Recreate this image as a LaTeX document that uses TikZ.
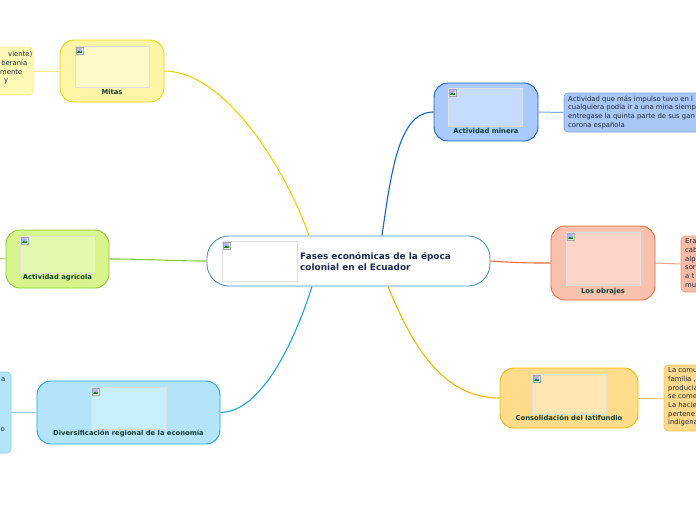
\documentclass[tikz,border=0pt]{standalone}
\usepackage{fontspec}
\setmainfont{DejaVu Sans}
\definecolor{lbl}{HTML}{12402F}
\definecolor{ttl}{HTML}{1B2A4E}
\definecolor{cenB}{HTML}{4A93D3}
\definecolor{mitF}{HTML}{FFF5A6}\definecolor{mitB}{HTML}{F0D400}\definecolor{mitI}{HTML}{FFF8C8}
\definecolor{minF}{HTML}{A9C9FF}\definecolor{minB}{HTML}{1462CC}\definecolor{minI}{HTML}{C5DBFF}
\definecolor{obrF}{HTML}{F8C1AE}\definecolor{obrB}{HTML}{F06A3A}\definecolor{obrI}{HTML}{FCD4C8}
\definecolor{latF}{HTML}{FFDB8C}\definecolor{latB}{HTML}{F8B800}\definecolor{latI}{HTML}{FFE6B2}
\definecolor{divF}{HTML}{B4E4FA}\definecolor{divB}{HTML}{1CA4E4}\definecolor{divI}{HTML}{C9EEFC}
\definecolor{agrF}{HTML}{D7F58C}\definecolor{agrB}{HTML}{8CC83C}\definecolor{agrI}{HTML}{E3F9AF}
\definecolor{nMitF}{HTML}{FFF9B8}\definecolor{nMitB}{HTML}{F8E680}
\definecolor{nMinF}{HTML}{A8C7F5}\definecolor{nMinB}{HTML}{7FA8E8}
\definecolor{nObrF}{HTML}{F7BAA5}\definecolor{nObrB}{HTML}{F0A080}
\definecolor{nLatF}{HTML}{FFD98C}\definecolor{nLatB}{HTML}{F8C860}
\definecolor{nDivF}{HTML}{B4E4FA}\definecolor{nDivB}{HTML}{88D0F0}
\definecolor{ntxt}{HTML}{1A2A3A}
\begin{document}
\begin{tikzpicture}[x=1pt,y=-1pt,
  topic/.style={draw, line width=0.9pt, rounded corners=14pt, inner sep=0pt},
  imgbox/.style={draw=black!12, line width=1pt, inner sep=0pt},
  tlabel/.style={font=\fontsize{6.8}{8}\selectfont\bfseries, text=lbl, inner sep=0pt},
  note/.style={draw, line width=0.6pt, rounded corners=4pt, inner sep=0pt},
  ntext/.style={font=\fontsize{6.85}{8.7}\selectfont, text=ntxt, inner sep=0pt, align=left},
  conn/.style={line width=1.1pt},
  subconn/.style={line width=1pt},
  brk/.pic={
    \fill[white] (0,0) rectangle (7,7);
    \draw[black!35, line width=0.4pt] (0,0) rectangle (7,7);
    \fill[blue!30] (0.8,0.8) rectangle (6.2,6.2);
    \fill[green!55!black] (0.8,6.2) -- (3,3.6) -- (4.6,5) -- (6.2,3.8) -- (6.2,6.2) -- cycle;
  }]
\useasboundingbox (0,0) rectangle (696,520);
\fill[white] (0,0) rectangle (696,520);

% ---------- note boxes ----------
\node[note, draw=nMitB, fill=nMitF, minimum width=53pt, minimum height=48pt] (nmit) at (6.5,71) {};
\node[note, draw=nMinB, fill=nMinF, minimum width=196pt, minimum height=39pt] (nmin) at (662,112.5) {};
\node[note, draw=nObrB, fill=nObrF, minimum width=79pt, minimum height=56pt] (nobr) at (720.5,264) {};
\node[note, draw=nLatB, fill=nLatF, minimum width=96pt, minimum height=66pt] (nlat) at (712,398) {};
\node[note, draw=nDivB, fill=nDivF, minimum width=41pt, minimum height=81pt] (ndiv) at (-9.5,412.5) {};
\coordinate (nagr) at (-6,258);

% note texts
\node[ntext, anchor=base east] (tm1) at (32.5,56) {viente)};
\node[ntext, anchor=base east] (tm2) at (27.5,65) {beranía};
\node[ntext, anchor=base east] (tm3) at (22.5,74) {mente};
\node[ntext, anchor=base east] (tm4) at (8.5,82.5) {y};
\node[ntext, anchor=north west] (tmin) at (568,95.5) {Actividad que más impulso tuvo en l\\cualquiera podía ir a una mina siemp\\entregase la quinta parte de sus gan\\corona española};
\node[ntext, anchor=north west] (tobr) at (685,238.5) {Era\\cab\\alp\\sor\\a t\\mu};
\node[ntext, anchor=north west] (tlat) at (668,367.5) {La comu\\familia ,\\producia\\se come\\La hacie\\pertene\\indigena};
\node[ntext, anchor=base east] (td1) at (5.5,381.5) {a};
\node[ntext, anchor=base east] (td2) at (5,431.5) {o};

% ---------- central ----------
\node[topic, draw=cenB, fill=white, rounded corners=22pt, minimum width=283pt, minimum height=50pt] (central) at (348.5,261) {};
\node[imgbox, fill=white, minimum width=75pt, minimum height=40pt] (centimg) at (259.5,261) {};
\pic at ([shift={(1.5pt,-1.5pt)}]centimg.north west) {brk};
\node[anchor=west, align=left, inner sep=0pt, text=ttl, font=\fontsize{8.9}{11.2}\selectfont\bfseries] (title) at (300,261.5) {Fases económicas de la época\\colonial en el Ecuador};

% ---------- topics ----------
\node[topic, draw=mitB, fill=mitF, minimum width=104pt, minimum height=62pt] (mitas) at (112,71) {};
\node[imgbox, fill=mitI, minimum width=74pt, minimum height=41pt] (mitasimg) at (112,66.5) {};
\pic at ([shift={(1.5pt,-1.5pt)}]mitasimg.north west) {brk};
\node[tlabel] (mitaslbl) at (112,92) {Mitas};

\node[topic, draw=minB, fill=minF, minimum width=104pt, minimum height=58pt] (minera) at (486,112) {};
\node[imgbox, fill=minI, minimum width=74pt, minimum height=38pt] (mineraimg) at (485,107) {};
\pic at ([shift={(1.5pt,-1.5pt)}]mineraimg.north west) {brk};
\node[tlabel] (mineralbl) at (486,131) {Actividad minera};

\node[topic, draw=obrB, fill=obrF, minimum width=104pt, minimum height=74pt] (obrajes) at (603,263) {};
\node[imgbox, fill=obrI, minimum width=74pt, minimum height=53pt] (obrajesimg) at (603,258.5) {};
\pic at ([shift={(1.5pt,-1.5pt)}]obrajesimg.north west) {brk};
\node[tlabel] (obrajeslbl) at (603,292) {Los obrajes};

\node[topic, draw=latB, fill=latF, minimum width=138pt, minimum height=60pt] (latif) at (569,398) {};
\node[imgbox, fill=latI, minimum width=74pt, minimum height=40pt] (latifimg) at (569,394) {};
\pic at ([shift={(1.5pt,-1.5pt)}]latifimg.north west) {brk};
\node[tlabel] (latiflbl) at (569,418) {Consolidación del latifundio};

\node[topic, draw=divB, fill=divF, minimum width=183pt, minimum height=63pt] (divers) at (128.5,412.5) {};
\node[imgbox, fill=divI, minimum width=75pt, minimum height=42pt] (diversimg) at (128.5,408) {};
\pic at ([shift={(1.5pt,-1.5pt)}]diversimg.north west) {brk};
\node[tlabel] (diverslbl) at (128.5,434) {Diversificación regional de la economía};

\node[topic, draw=agrB, fill=agrF, minimum width=103pt, minimum height=58pt] (agric) at (57.5,259) {};
\node[imgbox, fill=agrI, minimum width=75pt, minimum height=37pt] (agricimg) at (57.5,254.5) {};
\pic at ([shift={(1.5pt,-1.5pt)}]agricimg.north west) {brk};
\node[tlabel] (agriclbl) at (57.5,278) {Actividad agrícola};

% ---------- main connectors ----------
\draw[conn, draw=mitB] ([xshift=-39.5pt]central.north) .. controls (290,180) and (230,72) .. (mitas.east);
\draw[conn, draw=minB] ([xshift=33.5pt]central.north) .. controls (392,165) and (400,112) .. (minera.west);
\draw[conn, draw=obrB] (central.east) .. controls (520,263) and (530,263) .. (obrajes.west);
\draw[conn, draw=latB] ([xshift=39.5pt]central.south) .. controls (410,340) and (440,398) .. (latif.west);
\draw[conn, draw=divB] ([xshift=-36.5pt]central.south) .. controls (295,340) and (262,412) .. (divers.east);
\draw[conn, draw=agrB] (agric.east) .. controls (150,259) and (170,261) .. (central.west);

% ---------- sub connectors ----------
\draw[subconn, draw=nMitB] (mitas.west) -- (nmit.east);
\draw[subconn, draw=nMinB] (minera.east) -- (nmin.west);
\draw[subconn, draw=nObrB] (obrajes.east) -- (nobr.west);
\draw[subconn, draw=nLatB] (latif.east) -- (nlat.west);
\draw[subconn, draw=nDivB] (divers.west) -- (ndiv.east);
\draw[subconn, draw=agrB!70] (agric.west) -- (nagr);
\end{tikzpicture}
\end{document}
